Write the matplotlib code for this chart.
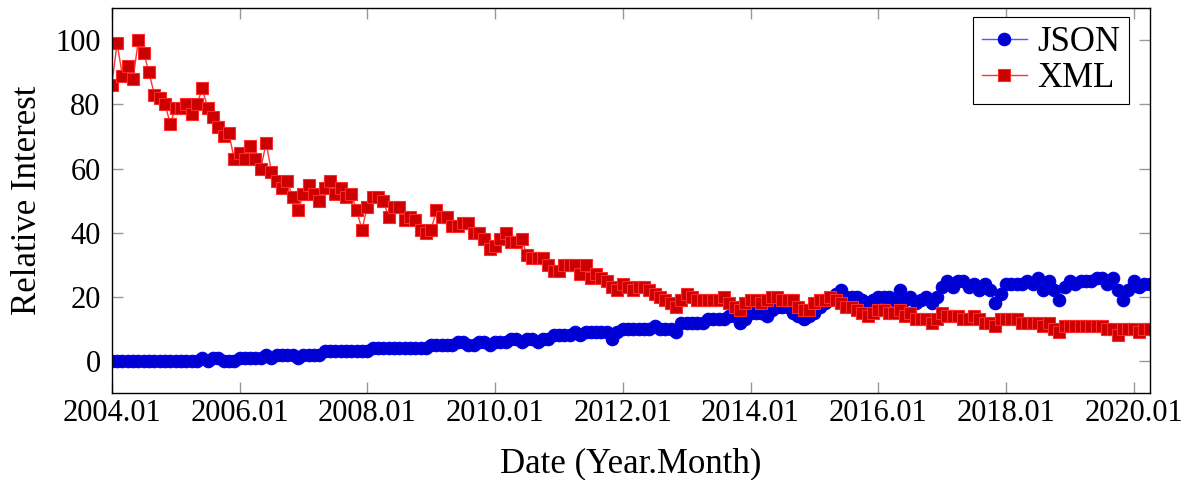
import numpy as np
import pandas as pd
import matplotlib
matplotlib.use("Agg")
import matplotlib.pyplot as plt

# monthly Google-Trends-like interest, 2004.01 .. 2020.04
months = pd.date_range("2004-01-01", periods=196, freq="MS")

json_vals = [
    0, 0, 0, 0, 0, 0, 0, 0, 0, 0, 0, 0, 0, 0, 0, 0, 0, 1, 0, 1,
    1, 0, 0, 0, 1, 1, 1, 1, 1, 2, 1, 2, 2, 2, 2, 1, 2, 2, 2, 2,
    3, 3, 3, 3, 3, 3, 3, 3, 3, 4, 4, 4, 4, 4, 4, 4, 4, 4, 4, 4,
    5, 5, 5, 5, 5, 6, 6, 5, 5, 6, 6, 5, 6, 6, 6, 7, 7, 6, 7, 7,
    6, 7, 7, 8, 8, 8, 8, 9, 8, 9, 9, 9, 9, 9, 7, 9, 10, 10, 10, 10,
    10, 10, 11, 10, 10, 10, 9, 12, 12, 12, 12, 12, 13, 13, 13, 13, 14, 14, 12, 13,
    15, 15, 15, 14, 16, 17, 17, 17, 15, 14, 13, 14, 15, 17, 18, 19, 21, 22, 20, 20,
    20, 19, 18, 19, 20, 20, 20, 19, 22, 19, 20, 18, 19, 20, 18, 20, 23, 25, 23, 25,
    25, 23, 24, 22, 24, 22, 18, 21, 24, 24, 24, 24, 25, 24, 26, 22, 25, 22, 19, 23,
    25, 24, 25, 25, 25, 26, 26, 24, 26, 22, 19, 22, 25, 23, 24, 24,
]

xml_vals = [
    86, 99, 89, 92, 88, 100, 96, 90, 83, 82, 80, 74, 79, 79, 80, 77, 80, 85, 79, 76,
    73, 70, 71, 63, 65, 63, 67, 63, 60, 68, 59, 56, 54, 56, 51, 47, 52, 55, 52, 50,
    54, 56, 52, 54, 51, 52, 47, 41, 48, 51, 51, 50, 45, 48, 48, 44, 45, 44, 41, 40,
    41, 47, 45, 45, 42, 42, 43, 43, 40, 40, 38, 35, 36, 38, 40, 37, 37, 38, 33, 32,
    32, 32, 30, 28, 28, 30, 30, 30, 27, 30, 26, 27, 26, 25, 23, 22, 24, 23, 22, 23,
    23, 22, 21, 20, 19, 18, 17, 19, 21, 20, 19, 19, 19, 19, 19, 20, 18, 17, 16, 18,
    19, 19, 18, 19, 20, 20, 19, 19, 19, 17, 16, 16, 18, 19, 19, 20, 19, 18, 17, 17,
    16, 15, 14, 15, 16, 16, 15, 15, 16, 14, 15, 13, 13, 13, 12, 13, 15, 14, 14, 14,
    13, 13, 14, 13, 12, 12, 11, 13, 13, 13, 13, 12, 12, 12, 12, 11, 12, 10, 9, 11,
    11, 11, 11, 11, 11, 11, 11, 10, 10, 8, 10, 10, 10, 9, 10, 10,
]

tick_years = list(range(2004, 2021, 2))
tick_labels = [f"{y}.01" for y in tick_years]

x = months.year + (months.month - 1) / 12.0

plt.rcParams["font.family"] = ["Liberation Serif", "DejaVu Serif"]
plt.rcParams["font.size"] = 22

fig = plt.figure(figsize=(11.89, 4.80), dpi=100)
ax = fig.add_axes([0.094, 0.181, 0.873, 0.802])

ax.plot(x, json_vals, color="#5555ff", lw=1.0, marker="o", ms=9,
        mfc="#0000cc", mec="#0000ee", mew=0.8, label="JSON")
ax.plot(x, xml_vals, color="#ff3333", lw=1.0, marker="s", ms=8.5,
        mfc="#cc0000", mec="#ff2a2a", mew=0.8, label="XML")

ax.set_xlim(x[0], x[-1])
ax.set_ylim(-10, 110)
ax.set_xticks(tick_years)
ax.set_xticklabels(tick_labels)
ax.set_yticks([0, 20, 40, 60, 80, 100])

ax.tick_params(direction="in", length=8, width=1, color="#999999",
               top=True, right=True)
ax.tick_params(axis="x", pad=4)
ax.tick_params(axis="y", pad=8)
for s in ax.spines.values():
    s.set_linewidth(1.0)
    s.set_color("black")

ax.set_xlabel("Date (Year.Month)", fontsize=25, labelpad=14)
ax.set_ylabel("Relative Interest", fontsize=25, labelpad=8)

leg = ax.legend(loc="upper right", bbox_to_anchor=(0.98, 0.977),
                borderaxespad=0, fancybox=False, framealpha=1,
                edgecolor="black", handlelength=1.3, fontsize=25,
                handletextpad=0.3, borderpad=0.25, labelspacing=0.1)
leg.get_frame().set_linewidth(0.8)

fig.savefig("out.png", dpi=100)
